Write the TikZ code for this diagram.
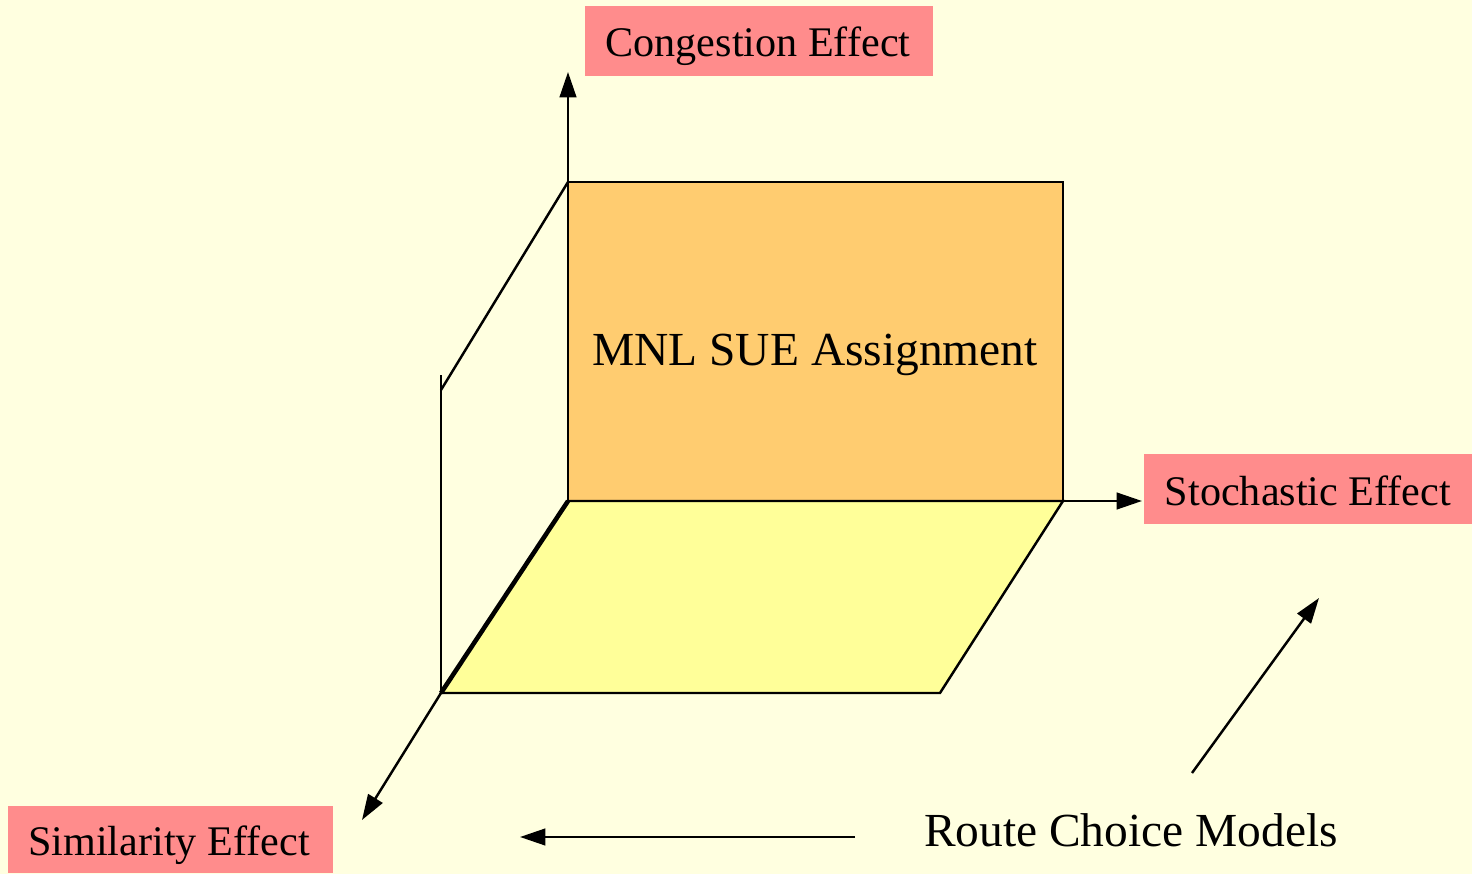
\documentclass[tikz,border=0pt]{standalone}
\usepackage{fontspec}
\setmainfont{Liberation Serif}
\usetikzlibrary{arrows.meta}
\definecolor{bgyellow}{RGB}{255,255,224}
\definecolor{boxpink}{RGB}{255,140,140}
\definecolor{wallorange}{RGB}{255,204,112}
\definecolor{flooryellow}{RGB}{255,255,153}
\tikzset{
  axis/.style={line width=1.4pt,-{Triangle[length=14.5pt,width=9.5pt]}},
  edge/.style={line width=1.4pt},
  labelbox/.style={fill=boxpink,inner sep=0pt},
  labeltext/.style={inner sep=0pt,font=\fontsize{24}{28}\selectfont},
  bigtext/.style={font=\fontsize{27}{32}\selectfont,inner sep=0pt}
}
\begin{document}
\begin{tikzpicture}[x=0.02cm,y=-0.02cm]
\useasboundingbox (0,0) rectangle (1472,874);
\fill[bgyellow] (0,0) rectangle (1472,874);
% key points
\coordinate (wtl) at (568,182);
\coordinate (wtr) at (1063,182);
\coordinate (wbl) at (568,501);
\coordinate (wbr) at (1063,501);
\coordinate (ffl) at (441,693);
\coordinate (ffr) at (940,693);
\coordinate (lvtop) at (441,375);
\coordinate (ldiag) at (441,390);
\coordinate (ctip) at (568,72);
\coordinate (stip) at (1142,501);
\coordinate (simtip) at (362,820);
\coordinate (bstart) at (855,837);
\coordinate (btip) at (520,837);
\coordinate (dstart) at (1192,773);
\coordinate (dtip) at (1319,598);
% wall and floor
\filldraw[fill=wallorange,edge] (wtl) -- (wtr) -- (wbr) -- (wbl) -- cycle;
\filldraw[fill=flooryellow,edge] (wbl) -- (wbr) -- (ffr) -- (ffl) -- cycle;
\draw[line width=2.6pt] (wbl) -- (ffl);
% side frame
\draw[edge] (ffl) -- (lvtop);
\draw[edge] (ldiag) -- (wtl);
% axes
\draw[axis] (wtl) -- (ctip);
\draw[axis] (wbr) -- (stip);
\draw[axis] (ffl) -- (simtip);
\draw[axis] (bstart) -- (btip);
\draw[axis] (dstart) -- (dtip);
% label boxes
\node[labelbox,minimum width=6.96cm,minimum height=1.4cm] (cong) at (759,41) {};
\node[labelbox,minimum width=6.56cm,minimum height=1.4cm] (stoch) at (1308,489) {};
\node[labelbox,minimum width=6.5cm,minimum height=1.34cm] (sim) at (170.5,839.5) {};
\node[labeltext] (congt) at (758,46) {Congestion Effect};
\node[labeltext] (stocht) at (1308,491) {Stochastic Effect};
\node[labeltext] (simt) at (169,845) {Similarity Effect};
\node[bigtext] (mnl) at (815,355) {MNL SUE Assignment};
\node[bigtext] (rcm) at (1131,830) {Route Choice Models};
\end{tikzpicture}
\end{document}
